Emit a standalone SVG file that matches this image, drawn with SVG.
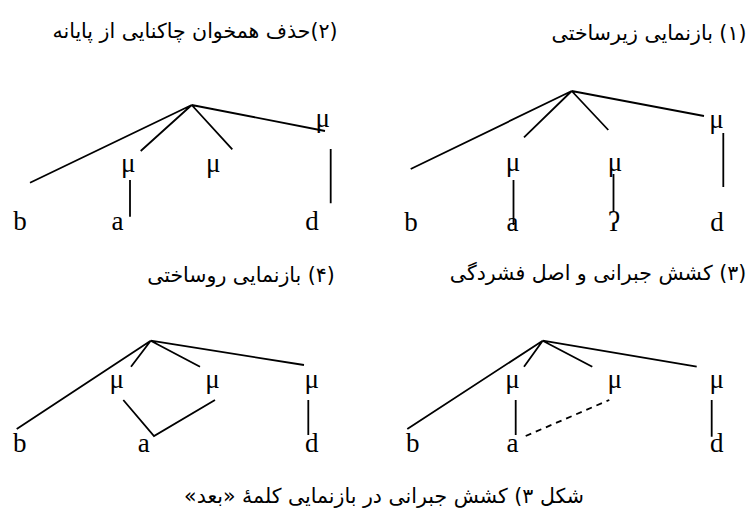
<svg xmlns="http://www.w3.org/2000/svg" width="756" height="515" viewBox="0 0 756 515">
<style>
.t{font-family:"DejaVu Sans",sans-serif;font-size:20.5px;fill:#000;direction:rtl;text-anchor:middle}
.c{font-family:"DejaVu Sans",sans-serif;font-size:20.5px;fill:#000;direction:rtl;text-anchor:middle}
.l{font-family:"Liberation Serif","DejaVu Serif",serif;font-size:27px;fill:#000;text-anchor:middle}
.e{stroke:#000;stroke-width:1.8;fill:none;stroke-linecap:butt}
.d{stroke-dasharray:6 5}
</style>
<rect width="756" height="515" fill="#fff"/>
<g id="titles">
<text class="t" x="649" y="40">(۱) بازنمایی زیرساختی</text>
<text class="t" x="195" y="38">(۲)حذف همخوان چاکنایی از پایانه</text>
<text class="t" x="598" y="280">(۳) کشش جبرانی و اصل فشردگی</text>
<text class="t" x="241" y="282">(۴) بازنمایی روساختی</text>
<text class="c" x="384" y="503">شکل ۳) کشش جبرانی در بازنمایی کلمهٔ «بعد»</text>
</g>
<g id="connectors">
<path class="e" d="M571.7,91 L410.7,169 M571.7,91 L524,137.3 M571.7,91 L608.3,130 M571.7,91 L704,116 M513.5,180 V225 M613.5,174 V212 M723.3,133 V187"/>
<path class="e" d="M191.7,105 L30,182.7 M191.7,105 L140.7,151 M191.7,105 L232.3,149.3 M191.7,105 L325,131 M130,180 V216.7 M330.7,149 V203.3"/>
<path class="e" d="M542.7,340.7 L407.3,429 M542.7,340.7 L524,366.7 M542.7,340.7 L592.3,366.7 M542.7,340.7 L696.7,366.7 M515.7,400 V435 M711.7,400 V436.7"/>
<path class="e d" d="M525.7,436 L609.3,400"/>
<path class="e" d="M150.7,340.7 L16.7,429 M150.7,340.7 L131,366.7 M150.7,340.7 L200,366.7 M150.7,340.7 L304,365 M123.3,400 L154,436 L215,400 M308.3,400 V435"/>
</g>
<g id="panel1">
<g id="p1-mu1"><text class="l" x="513" y="171">μ</text></g>
<g id="p1-mu2"><text class="l" x="615" y="171">μ</text></g>
<g id="p1-mu3"><text class="l" x="716.5" y="128">μ</text></g>
<g id="p1-b"><text class="l" x="411" y="230.5">b</text></g>
<g id="p1-a"><text class="l" x="512.5" y="230.5">a</text></g>
<g id="p1-q"><text class="l" x="614" y="230.5">ʔ</text></g>
<g id="p1-d"><text class="l" x="717" y="230.5">d</text></g>
</g>
<g id="panel2">
<g id="p2-mu1"><text class="l" x="128.3" y="172">μ</text></g>
<g id="p2-mu2"><text class="l" x="213.3" y="172">μ</text></g>
<g id="p2-mu3"><text class="l" x="322.7" y="127">μ</text></g>
<g id="p2-b"><text class="l" x="20" y="230">b</text></g>
<g id="p2-a"><text class="l" x="117.5" y="230">a</text></g>
<g id="p2-d"><text class="l" x="312" y="230">d</text></g>
</g>
<g id="panel3">
<g id="p3-mu1"><text class="l" x="512.5" y="388">μ</text></g>
<g id="p3-mu2"><text class="l" x="614.7" y="388">μ</text></g>
<g id="p3-mu3"><text class="l" x="716.7" y="388">μ</text></g>
<g id="p3-b"><text class="l" x="412.7" y="451.5">b</text></g>
<g id="p3-a"><text class="l" x="512.5" y="451.5">a</text></g>
<g id="p3-d"><text class="l" x="716.7" y="451.5">d</text></g>
</g>
<g id="panel4">
<g id="p4-mu1"><text class="l" x="116.7" y="388">μ</text></g>
<g id="p4-mu2"><text class="l" x="212.5" y="388">μ</text></g>
<g id="p4-mu3"><text class="l" x="311.7" y="388">μ</text></g>
<g id="p4-b"><text class="l" x="19.7" y="451.5">b</text></g>
<g id="p4-a"><text class="l" x="143.7" y="451.5">a</text></g>
<g id="p4-d"><text class="l" x="311.7" y="451.5">d</text></g>
</g>
</svg>
